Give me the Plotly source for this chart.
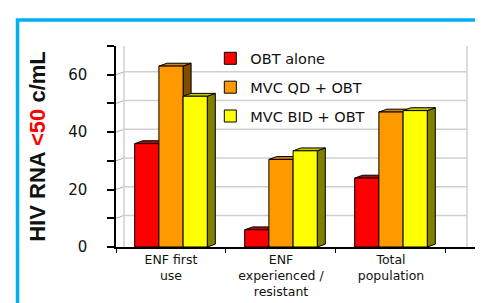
import plotly.graph_objects as go

# ---- data ----
categories = ["ENF first<br>use", "ENF<br>experienced /<br>resistant", "Total<br>population"]
series_names = ["OBT alone", "MVC QD + OBT", "MVC BID + OBT"]
obt_alone = [36, 6, 24]
mvc_qd = [63, 30.5, 47]
mvc_bid = [52.5, 33.5, 47.5]
y_tick_vals = [0, 10, 20, 30, 40, 50, 60, 70]
y_tick_text = ["0", "", "20", "", "40", "", "60", ""]

series_values = [obt_alone, mvc_qd, mvc_bid]
front_colors = ["#ff0000", "#ff9900", "#ffff00"]
top_colors = ["#c00000", "#d98200", "#c8c800"]
side_colors = ["#800000", "#7f4c00", "#808000"]

W = 0.22      # bar width (category units)
DX = 0.073    # 3D depth offset in x (category units)
DY = 1.0      # 3D depth offset in y (data units)
X_MIN, X_MAX = -0.5, 2.773
WALL_RIGHT = 2.691

fig = go.Figure()
xs = list(range(len(categories)))

shapes = []
# back wall
for v in y_tick_vals[1:]:
    shapes.append(dict(type="line", xref="x", yref="y", x0=X_MIN + DX, x1=WALL_RIGHT,
                       y0=v + DY, y1=v + DY, line=dict(color="#d0d0d0", width=1.5), layer="below"))
    shapes.append(dict(type="line", xref="x", yref="y", x0=X_MIN, x1=X_MIN + DX,
                       y0=v, y1=v + DY, line=dict(color="#b0b0b0", width=1), layer="below"))
shapes.append(dict(type="line", xref="x", yref="y", x0=X_MIN + DX, x1=X_MIN + DX,
                   y0=0, y1=y_tick_vals[-1] + DY, line=dict(color="#d0d0d0", width=1.5), layer="below"))
shapes.append(dict(type="line", xref="x", yref="y", x0=WALL_RIGHT, x1=WALL_RIGHT,
                   y0=0, y1=y_tick_vals[-1] + DY, line=dict(color="#d0d0d0", width=1.5), layer="below"))
# white panel behind the legend (hides the wall grid there)
shapes.append(dict(type="rect", xref="paper", yref="y", x0=0.294, x1=0.719, y0=39, y1=66,
                   fillcolor="white", line=dict(width=0), layer="below"))

# 3D faces of bars (drawn below the front faces, bar by bar)
for c in xs:
    for i, vals in enumerate(series_values):
        v = vals[c]
        left = c - 1.5 * W + i * W
        right = left + W
        side = f"M{right},0 L{right + DX},{DY} L{right + DX},{v + DY} L{right},{v} Z"
        top = f"M{left},{v} L{left + DX},{v + DY} L{right + DX},{v + DY} L{right},{v} Z"
        shapes.append(dict(type="path", xref="x", yref="y", path=side,
                           fillcolor=side_colors[i], line=dict(color="black", width=1), layer="below"))
        shapes.append(dict(type="path", xref="x", yref="y", path=top,
                           fillcolor=top_colors[i], line=dict(color="black", width=1), layer="below"))

# blue frame
shapes.append(dict(type="path", xref="paper", yref="paper",
                   path="M-0.2736,-0.3 L-0.2736,1.1298 L1.05,1.1298",
                   line=dict(color="#00b0f0", width=3.5)))

for i, (name, vals) in enumerate(zip(series_names, series_values)):
    fig.add_trace(go.Bar(
        x=xs, y=vals, name=name, width=W, offset=-1.5 * W + i * W,
        marker=dict(color=front_colors[i], line=dict(color="black", width=1)),
        legendgroup=name,
    ))

fig.update_layout(
    width=483, height=303,
    margin=dict(l=108, r=15, t=38, b=57.5),
    paper_bgcolor="white", plot_bgcolor="white",
    barmode="overlay",
    shapes=shapes,
    font=dict(family="DejaVu Sans", color="#111111"),
    showlegend=True,
    legend=dict(x=0.262, y=1.018, xanchor="left", yanchor="top",
                bgcolor="rgba(0,0,0,0)", font=dict(size=14.5, color="#111111"),
                traceorder="grouped", tracegroupgap=7),
    xaxis=dict(range=[X_MIN, X_MAX], tickvals=xs, ticktext=categories, ticks="",
               showline=True, linecolor="black", linewidth=1.5, showgrid=False, zeroline=False,
               tickfont=dict(size=12.5, color="#111111"),
               minor=dict(tick0=0.5, dtick=1, ticks="outside", ticklen=4, tickcolor="black", showgrid=False)),
    yaxis=dict(range=[0, 70], tickvals=y_tick_vals, ticktext=y_tick_text,
               ticks="outside", ticklen=7, tickcolor="black", tickwidth=1.5,
               showline=True, linecolor="black", linewidth=1.5, showgrid=False, zeroline=False,
               tickfont=dict(size=15, color="#111111"), ticklabelstandoff=17,
               title=dict(text="<b>HIV RNA <span style='color:#ff0000'>&lt;50</span> c/mL</b>",
                          font=dict(family="Liberation Sans", size=22, color="#111111"),
                          standoff=16)),
)

fig.write_html("out.html")
